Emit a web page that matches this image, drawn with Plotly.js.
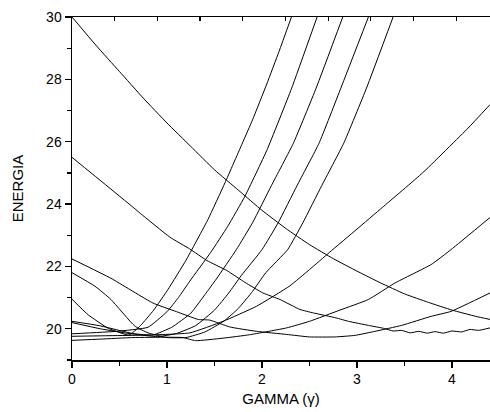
<!DOCTYPE html>
<html>
<head>
<meta charset="utf-8">
<script src="https://cdn.plot.ly/plotly-3.0.1.min.js"></script>
<style>html,body{margin:0;padding:0;background:#fff;}#chart{width:490px;height:412px;}</style>
</head>
<body>
<div id="chart"></div>
<script>
// Energy level curves (x = gamma, y = energy)
const A_x = [0,0.25,0.5,0.75,1.0,1.25,1.5,1.75,2.0,2.25,2.5,2.75,3.0,3.25,3.5,3.75,4.0,4.25,4.4];
const A_y = [30,29.1,28.25,27.4,26.6,25.85,25.1,24.45,23.8,23.22,22.7,22.25,21.85,21.47,21.12,20.85,20.6,20.4,20.3];

const B_x = [0,0.61,0.72,1.03,1.24,1.42,1.63,1.82,2.01,2.19,2.40,2.54,2.78,2.91,3.12,3.29,3.38,3.47,3.56,3.65,3.74,3.82,3.91,4.00,4.10,4.19,4.28,4.40];
const B_y = [25.5,23.98,23.70,22.94,22.56,22.19,21.87,21.49,21.15,20.94,20.62,20.51,20.35,20.24,20.11,20.01,19.93,19.95,19.87,19.92,19.86,19.91,19.86,19.93,19.90,19.98,19.95,20.03];

const C_x = [0,0.41,0.85,1.10,1.33,1.45,1.66,1.94,2.26,2.50,2.77,2.98,3.19,3.47,3.78,3.99,4.40];
const C_y = [22.24,21.62,20.83,20.55,20.30,20.28,20.06,19.92,19.82,19.74,19.74,19.79,19.92,20.11,20.40,20.56,21.15];

const D_x = [0,0.24,0.41,0.66,0.80,1.00,1.20,1.40,1.60,1.75,1.90,2.04,2.27,2.43,2.63,2.86,3.10,3.38];
const D_y = [21.8,21.37,20.94,20.09,19.87,19.72,19.72,19.90,20.25,20.65,21.20,21.80,22.54,23.40,24.60,25.95,27.72,30];

const E_x = [0,0.17,0.38,0.60,0.72,0.86,1.01,1.20,1.43,1.61,1.80,1.90,2.05,2.18,2.31];
const E_y = [20.95,20.45,20.02,19.80,20.10,20.60,21.26,22.20,23.50,24.68,26.00,26.70,27.85,28.90,30];

const F_x = [0,0.29,0.64,0.85,1.05,1.25,1.40,1.52,1.73,1.90,2.10,2.33,2.57,2.85];
const F_y = [20.24,20.10,19.85,19.80,20.05,20.50,21.10,21.60,22.54,23.40,24.60,25.95,27.72,30];

const G_x = [0,0.30,0.60,0.90,1.10,1.30,1.50,1.65,1.78,2.00,2.17,2.37,2.60,2.83,3.12];
const G_y = [20.20,20.00,19.85,19.75,19.85,20.10,20.60,21.15,21.70,22.54,23.40,24.60,25.95,27.72,30];

const L1_x = [0,0.47,0.80,1.00,1.12,1.24,1.46,1.64,1.82,2.05,2.31,2.58];
const L1_y = [19.84,19.92,20.05,20.55,21.00,21.53,22.45,23.29,24.25,25.72,27.70,30];

const L2_x = [0,0.40,0.80,1.24,1.59,1.94,2.29,2.50,2.71,3.00,3.27,3.69,4.17,4.40];
const L2_y = [19.76,19.78,19.80,19.87,20.24,20.72,21.37,21.90,22.45,23.20,23.90,25.00,26.44,27.19];

const L3_x = [0,0.30,0.64,1.00,1.17,1.30,1.59,1.87,2.26,2.50,2.82,3.12,3.40,3.78,3.99,4.40];
const L3_y = [19.63,19.67,19.72,19.73,19.72,19.62,19.70,19.81,20.03,20.24,20.60,20.94,21.47,22.06,22.54,23.57];

const curves = [[A_x,A_y],[B_x,B_y],[C_x,C_y],[D_x,D_y],[E_x,E_y],[F_x,F_y],[G_x,G_y],[L1_x,L1_y],[L2_x,L2_y],[L3_x,L3_y]];

const traces = curves.map(c => ({
  x: c[0], y: c[1], type: 'scatter', mode: 'lines',
  line: {color: '#000', width: 1, shape: 'spline', smoothing: 0.4}, hoverinfo: 'skip', showlegend: false
}));
// carrier trace for the top (mirror) axis
traces.push({x: [0], y: [null], xaxis: 'x2', yaxis: 'y', type: 'scatter', mode: 'lines', showlegend: false, hoverinfo: 'skip'});

const FONT = 'Arial, "Liberation Sans", sans-serif';
const layout = {
  width: 490, height: 412,
  margin: {l: 72, r: 0, t: 17, b: 52},
  paper_bgcolor: '#fff', plot_bgcolor: '#fff',
  showlegend: false,
  font: {family: FONT, color: '#000', size: 14},
  xaxis: {
    range: [0, 4.4], tick0: 0, dtick: 1, ticks: 'outside', ticklen: 6, tickwidth: 1.2, tickcolor: '#000',
    showline: true, linewidth: 1.5, linecolor: '#000', showgrid: false, zeroline: false,
    tickfont: {family: FONT, size: 14},
    minor: {dtick: 0.5, ticks: 'outside', ticklen: 4, tickwidth: 1.2, tickcolor: '#000', showgrid: false},
    title: {text: 'GAMMA (γ)', font: {family: FONT, size: 15}, standoff: 7}
  },
  xaxis2: {
    overlaying: 'x', side: 'top', range: [0, 9.79], tick0: 0, dtick: 1, ticks: 'inside', ticklen: 4, tickwidth: 1.2, tickcolor: '#000',
    showticklabels: false, showline: true, linewidth: 1.5, linecolor: '#000', showgrid: false, zeroline: false
  },
  yaxis: {
    range: [19, 30], tick0: 0, dtick: 2, ticks: 'outside', ticklen: 6, tickwidth: 1.2, tickcolor: '#000',
    showline: true, linewidth: 1.5, linecolor: '#000', showgrid: false, zeroline: false,
    tickfont: {family: FONT, size: 14},
    minor: {dtick: 1, ticks: 'outside', ticklen: 4, tickwidth: 1.2, tickcolor: '#000', showgrid: false},
    title: {text: 'ENERGIA', font: {family: FONT, size: 15}, standoff: 19}
  }
};

Plotly.newPlot('chart', traces, layout, {staticPlot: true, displayModeBar: false});
</script>
</body>
</html>
